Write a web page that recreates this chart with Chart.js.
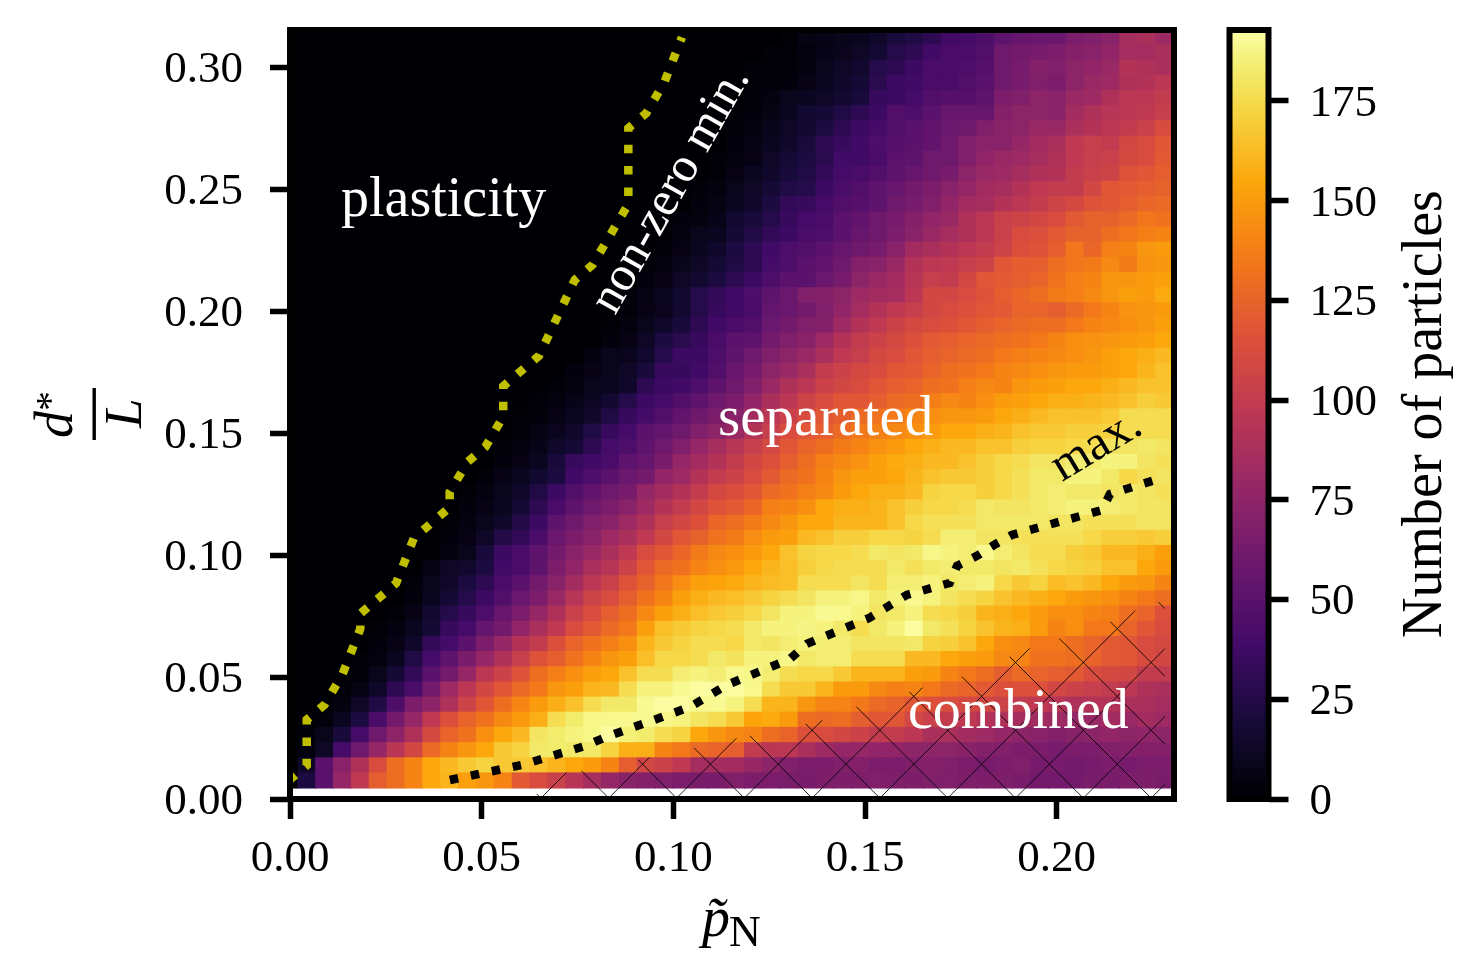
<!DOCTYPE html>
<html>
<head>
<meta charset="utf-8">
<title>Number of particles</title>
<script src="https://cdn.jsdelivr.net/npm/chart.js@4"></script>
<style>
    body { margin: 0; background: #fff; }
    canvas { position: absolute; top: 0; }
    #heat { left: 0; }
    #bar { left: 1200px; }
</style>
</head>
<body>
<canvas id="heat" width="1474" height="972"></canvas>
<canvas id="bar" width="274" height="972"></canvas>
<script>
// cell centres
const pCenters = [
    -0.0003, 0.00436, 0.00902, 0.01368, 0.01834, 0.02301, 0.02767, 0.03233, 0.03699, 0.04165,
    0.04631, 0.05097, 0.05563, 0.06029, 0.06495, 0.06962, 0.07428, 0.07894, 0.0836, 0.08826,
    0.09292, 0.09758, 0.10224, 0.1069, 0.11156, 0.11623, 0.12089, 0.12555, 0.13021, 0.13487,
    0.13953, 0.14419, 0.14885, 0.15351, 0.15817, 0.16284, 0.1675, 0.17216, 0.17682, 0.18148,
    0.18614, 0.1908, 0.19546, 0.20012, 0.20478, 0.20945, 0.21411, 0.21877, 0.22343, 0.22809
];
const dCenters = [
    0.0076, 0.0138, 0.0200, 0.0263, 0.0325, 0.0387, 0.0449, 0.0511, 0.0574, 0.0636,
    0.0698, 0.0760, 0.0822, 0.0885, 0.0947, 0.1009, 0.1071, 0.1133, 0.1196, 0.1258,
    0.1320, 0.1382, 0.1444, 0.1507, 0.1569, 0.1631, 0.1693, 0.1755, 0.1818, 0.1880,
    0.1942, 0.2004, 0.2066, 0.2129, 0.2191, 0.2253, 0.2315, 0.2377, 0.2440, 0.2502,
    0.2564, 0.2626, 0.2688, 0.2751, 0.2813, 0.2875, 0.2937, 0.2999, 0.3062, 0.3124
];

// particle count, one row per dCenter (bottom row first)
const particleCounts = [
    [1,22,50,78,98,122,130,140,155,160,152,148,140,120,112,104,94,86,78,72,70,68,66,65,65,68,66,66,65,65,67,67,67,68,67,67,68,68,67,67,67,65,62,62,62,65,65,67,67,65],
    [0,12,50,72,90,112,130,140,155,162,168,172,168,168,165,160,155,150,140,122,108,105,98,85,85,84,79,74,68,66,66,68,70,66,66,68,70,68,66,64,66,68,64,64,62,64,66,64,66,66],
    [0,3,12,40,60,78,95,108,128,140,148,155,168,172,182,183,182,182,172,158,158,140,135,128,125,122,100,95,96,88,82,78,78,76,76,74,74,74,72,70,68,66,66,64,66,66,68,70,70,70],
    [0,2,8,20,40,60,75,90,110,125,132,145,155,162,180,183,186,188,192,185,183,176,172,155,148,142,140,130,125,115,112,108,105,100,100,96,88,88,84,82,78,74,72,70,72,74,76,74,76,74],
    [0,1,3,10,22,42,62,78,98,115,125,132,142,150,158,176,183,188,189,189,190,188,186,180,176,168,154,156,150,130,128,130,122,118,118,108,104,100,98,92,90,86,84,82,78,80,84,80,84,82],
    [0,0,1,4,12,24,44,66,75,90,106,118,130,140,150,158,165,176,182,182,190,192,192,189,190,186,176,160,160,148,140,140,135,128,125,118,115,112,110,108,105,100,98,94,90,92,92,88,88,85],
    [0,0,0,1,5,13,30,42,62,82,96,108,118,128,135,148,152,160,162,176,186,186,190,192,192,192,189,176,168,168,160,150,150,142,138,140,135,128,125,120,115,115,115,108,105,102,100,96,90,88],
    [0,0,0,0,2,8,18,32,50,62,78,96,105,116,130,138,145,152,155,165,176,176,184,186,184,189,188,184,176,174,174,168,160,160,160,152,150,140,135,130,122,128,125,122,120,112,110,108,100,100],
    [0,0,0,0,1,4,10,24,40,52,65,78,90,102,116,122,132,140,148,152,164,174,174,176,182,179,186,186,188,182,184,184,176,176,176,162,162,155,152,150,142,140,132,132,130,125,120,118,112,108],
    [0,0,0,0,0,3,6,14,32,40,50,66,78,92,100,114,125,132,138,145,160,168,172,176,176,174,182,180,184,186,184,184,180,180,180,182,172,170,166,155,145,142,135,135,130,125,120,118,112,110],
    [0,0,0,0,0,1,4,10,18,34,40,55,62,76,88,98,112,120,128,135,152,164,168,172,174,176,182,186,186,187,186,182,176,182,186,192,182,178,172,166,160,158,150,140,145,135,135,125,118,112],
    [0,0,0,0,0,0,2,6,16,26,34,44,56,66,78,90,104,112,122,130,142,152,158,164,168,170,174,180,186,186,190,189,186,180,182,186,176,174,170,160,158,155,150,145,145,140,138,130,125,115],
    [0,0,0,0,0,0,0,3,10,18,26,36,46,58,66,80,94,106,112,122,132,140,152,158,162,164,168,172,176,180,186,186,188,182,186,189,186,180,176,172,166,162,158,155,150,148,145,140,135,130],
    [0,0,0,0,0,0,0,2,8,14,22,30,42,50,62,72,84,96,104,116,124,134,144,152,154,156,160,163,164,176,176,176,180,176,184,184,186,182,184,186,174,168,172,163,166,162,155,150,148,140],
    [0,0,0,0,0,0,0,0,5,12,15,22,38,42,52,66,76,88,94,105,118,128,132,140,145,149,155,160,164,170,174,176,176,176,182,178,182,184,182,182,180,182,178,174,172,170,165,165,155,150],
    [0,0,0,0,0,0,0,0,0,4,8,20,36,42,52,62,72,80,88,98,112,118,126,136,142,145,150,155,165,172,174,174,176,182,180,182,188,186,184,189,184,180,176,176,170,168,162,162,158,152],
    [0,0,0,0,0,0,0,0,0,3,6,12,25,32,42,58,66,72,82,88,98,108,118,124,132,136,144,150,152,162,165,170,170,174,174,172,176,184,184,180,180,178,178,178,178,174,170,170,168,170],
    [0,0,0,0,0,0,0,0,0,1,4,8,14,25,36,52,60,68,72,82,90,102,108,115,126,130,136,142,148,155,155,160,160,160,165,174,178,178,178,182,182,182,182,180,180,178,178,178,180,180],
    [0,0,0,0,0,0,0,0,0,0,3,6,10,18,30,42,52,60,66,72,82,92,100,108,116,120,126,138,140,145,155,158,158,160,165,170,174,174,176,182,180,180,182,184,186,186,184,182,180,180],
    [0,0,0,0,0,0,0,0,0,0,1,4,8,14,24,36,46,54,60,64,78,84,92,100,110,113,118,128,132,138,142,150,155,158,158,162,172,174,174,170,174,178,182,184,182,182,180,182,180,178],
    [0,0,0,0,0,0,0,0,0,0,0,2,6,10,16,22,38,44,50,58,62,76,82,92,100,105,112,120,128,132,140,148,152,152,155,160,165,168,168,170,174,178,182,182,186,186,182,174,178,180],
    [0,0,0,0,0,0,0,0,0,0,0,0,3,6,10,20,34,38,42,52,56,65,78,84,92,100,108,115,122,130,138,142,146,152,156,158,162,162,166,170,174,176,180,180,184,184,186,186,180,178],
    [0,0,0,0,0,0,0,0,0,0,0,0,1,4,7,14,18,30,40,44,52,60,68,78,86,94,102,110,118,125,130,136,140,146,150,155,158,162,162,165,165,170,172,172,174,176,180,180,182,180],
    [0,0,0,0,0,0,0,0,0,0,0,0,0,2,5,9,14,24,34,40,50,55,60,68,74,80,92,102,112,118,122,128,135,138,142,145,150,155,155,158,160,165,168,168,170,170,172,176,176,176],
    [0,0,0,0,0,0,0,0,0,0,0,0,0,1,3,6,10,14,24,34,40,46,54,60,66,72,84,96,104,112,118,122,128,132,135,140,145,148,148,150,155,158,162,165,165,165,168,176,176,176],
    [0,0,0,0,0,0,0,0,0,0,0,0,0,0,2,4,7,11,16,26,36,40,46,52,60,66,76,88,96,106,112,118,118,122,128,130,138,142,140,145,150,152,155,158,158,160,162,165,170,168],
    [0,0,0,0,0,0,0,0,0,0,0,0,0,0,0,2,4,8,10,14,30,36,38,44,52,60,68,80,90,96,105,108,112,118,122,125,130,132,138,142,140,148,150,152,155,155,158,162,165,166],
    [0,0,0,0,0,0,0,0,0,0,0,0,0,0,0,0,3,6,8,12,20,34,34,38,46,56,64,74,80,88,100,105,110,112,118,120,125,130,132,135,140,142,145,148,150,150,152,155,160,165],
    [0,0,0,0,0,0,0,0,0,0,0,0,0,0,0,0,0,4,8,9,15,26,36,36,44,52,60,68,74,80,88,98,102,110,112,118,122,125,128,130,135,138,140,142,145,148,152,155,158,162],
    [0,0,0,0,0,0,0,0,0,0,0,0,0,0,0,0,0,0,3,6,12,22,28,34,42,50,52,62,68,72,82,92,100,105,110,115,120,122,125,128,130,132,135,140,145,146,148,150,152,155],
    [0,0,0,0,0,0,0,0,0,0,0,0,0,0,0,0,0,0,1,4,8,14,20,30,38,42,46,58,62,68,70,82,92,98,105,110,112,115,118,122,125,128,130,130,135,140,142,145,148,152],
    [0,0,0,0,0,0,0,0,0,0,0,0,0,0,0,0,0,0,0,2,6,9,16,26,34,38,42,55,58,62,68,76,85,92,98,102,108,112,115,118,120,125,125,122,128,135,140,146,148,150],
    [0,0,0,0,0,0,0,0,0,0,0,0,0,0,0,0,0,0,0,2,5,10,16,26,32,38,44,52,58,68,70,74,82,84,86,96,108,108,112,116,122,126,130,136,138,142,148,152,150,156],
    [0,0,0,0,0,0,0,0,0,0,0,0,0,0,0,0,0,0,0,0,3,6,12,16,22,30,36,44,50,50,58,64,74,80,84,94,102,100,108,118,120,122,125,132,138,140,148,148,150,152],
    [0,0,0,0,0,0,0,0,0,0,0,0,0,0,0,0,0,0,0,0,1,4,8,12,18,24,30,40,44,50,54,60,70,72,80,92,96,98,102,106,118,122,122,130,134,136,142,136,146,148],
    [0,0,0,0,0,0,0,0,0,0,0,0,0,0,0,0,0,0,0,0,0,2,6,10,14,22,30,38,44,46,50,56,60,64,72,84,88,92,96,100,106,114,116,122,134,126,138,140,148,150],
    [0,0,0,0,0,0,0,0,0,0,0,0,0,0,0,0,0,0,0,0,0,0,4,8,10,18,24,32,36,42,44,50,56,60,66,72,80,86,90,96,104,112,114,120,124,124,130,134,138,140],
    [0,0,0,0,0,0,0,0,0,0,0,0,0,0,0,0,0,0,0,0,0,0,3,4,7,16,20,26,34,40,42,50,54,60,64,70,76,80,90,96,104,106,108,112,120,124,124,128,134,132],
    [0,0,0,0,0,0,0,0,0,0,0,0,0,0,0,0,0,0,0,0,0,0,0,3,5,10,14,22,32,34,40,46,48,52,60,64,68,76,84,86,92,96,100,106,110,116,118,122,126,128],
    [0,0,0,0,0,0,0,0,0,0,0,0,0,0,0,0,0,0,0,0,0,0,0,2,4,8,12,18,24,26,36,42,46,52,56,62,66,72,78,84,86,92,98,100,100,108,118,120,122,124],
    [0,0,0,0,0,0,0,0,0,0,0,0,0,0,0,0,0,0,0,0,0,0,0,0,2,6,10,14,20,24,32,40,42,46,52,56,60,64,74,80,82,86,90,92,100,104,106,116,118,122],
    [0,0,0,0,0,0,0,0,0,0,0,0,0,0,0,0,0,0,0,0,0,0,0,0,2,4,6,12,18,22,28,38,38,42,50,52,60,60,68,76,80,82,86,90,98,102,104,110,112,120],
    [0,0,0,0,0,0,0,0,0,0,0,0,0,0,0,0,0,0,0,0,0,0,0,0,0,3,5,10,14,20,30,34,38,44,48,50,54,60,68,72,72,78,84,88,98,102,100,108,112,118],
    [0,0,0,0,0,0,0,0,0,0,0,0,0,0,0,0,0,0,0,0,0,0,0,0,0,2,4,8,12,16,22,30,36,40,46,50,54,58,60,68,72,74,80,80,88,92,96,100,104,112],
    [0,0,0,0,0,0,0,0,0,0,0,0,0,0,0,0,0,0,0,0,0,0,0,0,0,1,3,5,10,16,18,24,30,36,46,44,50,56,56,56,70,74,74,72,84,90,94,96,98,102],
    [0,0,0,0,0,0,0,0,0,0,0,0,0,0,0,0,0,0,0,0,0,0,0,0,0,0,2,4,8,10,12,16,20,34,36,40,46,48,48,52,66,68,74,72,80,82,90,96,96,100],
    [0,0,0,0,0,0,0,0,0,0,0,0,0,0,0,0,0,0,0,0,0,0,0,0,0,0,1,2,3,6,10,14,18,28,36,38,42,42,46,50,60,64,68,66,74,80,82,90,92,96],
    [0,0,0,0,0,0,0,0,0,0,0,0,0,0,0,0,0,0,0,0,0,0,0,0,0,0,1,1,2,4,8,12,15,26,30,36,42,42,44,48,60,64,70,68,74,76,80,92,90,88],
    [0,0,0,0,0,0,0,0,0,0,0,0,0,0,0,0,0,0,0,0,0,0,0,0,0,0,0,1,1,4,7,9,12,17,26,30,38,42,42,46,60,62,64,66,70,72,76,85,85,88],
    [0,0,0,0,0,0,0,0,0,0,0,0,0,0,0,0,0,0,0,0,0,0,0,0,0,0,0,0,1,5,6,8,10,14,20,24,30,38,40,44,52,56,58,58,66,68,72,85,88,82]
];

// non-zero min. line
const minP = [-0.0003, 0.00436, 0.00436, 0.00902, 0.01368, 0.01834, 0.01834, 0.02767, 0.03233, 0.03699, 0.04165, 0.04165, 0.04631, 0.05097, 0.05563, 0.05563, 0.06495, 0.07428, 0.07894, 0.0836, 0.08826, 0.08826, 0.09292, 0.09758, 0.10224];
const minD = [0.0076, 0.0138, 0.0325, 0.0387, 0.0511, 0.0698, 0.0760, 0.0885, 0.1071, 0.1133, 0.1196, 0.1258, 0.1382, 0.1444, 0.1569, 0.1693, 0.1818, 0.2129, 0.2191, 0.2315, 0.2440, 0.2751, 0.2813, 0.2937, 0.3124];

// max. line
const maxP = [0.0417, 0.0603, 0.0769, 0.0824, 0.1043, 0.1140, 0.1304, 0.1348, 0.1510, 0.1609, 0.1721, 0.1740, 0.1792, 0.1841, 0.1883, 0.2118, 0.2139, 0.2256];
const maxD = [0.0078, 0.0139, 0.0217, 0.0254, 0.0377, 0.0468, 0.0574, 0.0636, 0.0742, 0.0837, 0.0886, 0.0956, 0.0997, 0.1046, 0.1083, 0.1185, 0.1251, 0.1308];

// upper edge of the hatched "combined" region
const combinedP = [0.0625, 0.0717, 0.0756, 0.0905, 0.0942, 0.1051, 0.1166, 0.1195, 0.1343, 0.1390, 0.1474, 0.1612, 0.1656, 0.1750, 0.1875, 0.1938, 0.2003, 0.2139, 0.2209, 0.2264, 0.2282, 0.2282];
const combinedD = [0, 0.0108, 0.0115, 0.0160, 0.0172, 0.0209, 0.0250, 0.0258, 0.0308, 0.0324, 0.0377, 0.0439, 0.0459, 0.0500, 0.0582, 0.0623, 0.0656, 0.0726, 0.0775, 0.0808, 0.0816, 0];

const pTicks = [0, 0.05, 0.10, 0.15, 0.20];
const dTicks = [0, 0.05, 0.10, 0.15, 0.20, 0.25, 0.30];
const countTicks = [0, 25, 50, 75, 100, 125, 150, 175];
const countMax = 192.8;

// inferno
const infernoAt = [0, 0.1, 0.2, 0.3, 0.4, 0.5, 0.6, 0.7, 0.8, 0.9, 0.95, 1];
const inferno = ['#000004', '#160b39', '#420a68', '#6a176e', '#932667', '#bc3754', '#dd513a', '#f37819', '#fca50a', '#f6d746', '#f2ec6e', '#fcffa4'];

function hexToRgb(hex) {
    return [1, 3, 5].map(i => parseInt(hex.slice(i, i + 2), 16));
}

function countColor(v) {
    const t = Math.min(v / countMax, 1);
    let i = 0;
    while (i < inferno.length - 2 && t > infernoAt[i + 1]) i++;
    const f = (t - infernoAt[i]) / (infernoAt[i + 1] - infernoAt[i]);
    const a = hexToRgb(inferno[i]), b = hexToRgb(inferno[i + 1]);
    const c = a.map((x, k) => Math.round(x + (b[k] - x) * f));
    return `rgb(${c[0]},${c[1]},${c[2]})`;
}

const serif = '"Liberation Serif", serif';

// text and frame drawn on top of the axes
function textPlugin(labels) {
    return {
        id: 'labels',
        afterDraw(chart) {
            const ctx = chart.ctx;
            labels.forEach(l => {
                ctx.save();
                ctx.translate(l.x, l.y);
                ctx.rotate((l.angle || 0) * Math.PI / 180);
                ctx.font = l.font;
                ctx.fillStyle = l.color || '#000';
                ctx.textAlign = l.align || 'left';
                ctx.textBaseline = 'alphabetic';
                ctx.fillText(l.text, 0, 0);
                ctx.restore();
            });
        }
    };
}

const framePlugin = {
    id: 'frame',
    afterDatasetsDraw(chart) {
        const a = chart.chartArea, ctx = chart.ctx;
        ctx.save();
        ctx.strokeStyle = '#000';
        ctx.lineWidth = 6;
        ctx.strokeRect(a.left, a.top, a.right - a.left, a.bottom - a.top);
        ctx.restore();
    }
};

const hatchPlugin = {
    id: 'hatch',
    afterDatasetsDraw(chart) {
        const { ctx, chartArea: a, scales: { x, y } } = chart;
        ctx.save();
        ctx.beginPath();
        combinedP.forEach((p, i) => {
            ctx.lineTo(x.getPixelForValue(p), y.getPixelForValue(combinedD[i]));
        });
        ctx.closePath();
        ctx.clip();
        ctx.strokeStyle = 'rgba(0,0,0,0.85)';
        ctx.lineWidth = 1;
        ctx.beginPath();
        const period = 67.8;
        for (let c = 14 - period * 6; c < a.right; c += period) {
            ctx.moveTo(a.top + c, a.top);
            ctx.lineTo(a.bottom + c, a.bottom);
        }
        for (let c = 1339 - period * 4; c < a.right + a.bottom; c += period) {
            ctx.moveTo(c - a.top, a.top);
            ctx.lineTo(c - a.bottom, a.bottom);
        }
        ctx.stroke();
        ctx.restore();
    }
};

const fracPlugin = {
    id: 'frac',
    afterDraw(chart) {
        chart.ctx.fillStyle = '#000';
        chart.ctx.fillRect(92.5, 388, 3.4, 52);
    }
};

// keep tick labels from pushing the plot area in
function pinScale(scale, size) {
    if (scale.isHorizontal()) {
        scale.height = size;
    } else {
        scale.width = size;
    }
    scale.paddingTop = scale.paddingBottom = scale.paddingLeft = scale.paddingRight = 0;
}

const halfD = (dCenters[1] - dCenters[0]) / 2;

const rowDatasets = particleCounts.map((row, j) => ({
    type: 'bar',
    order: 2,
    data: row.map((v, i) => ({ x: pCenters[i], y: [dCenters[j] - halfD, dCenters[j] + halfD] })),
    backgroundColor: row.map(countColor),
    borderWidth: 0,
    inflateAmount: 0.5,
    grouped: false,
    barPercentage: 1,
    categoryPercentage: 1
}));

function dottedLine(ps, ds, color) {
    return {
        type: 'line',
        order: 1,
        data: ps.map((p, i) => ({ x: p, y: ds[i] })),
        borderColor: color,
        borderWidth: 8.5,
        borderDash: [8.5, 12.9],
        borderCapStyle: 'butt',
        pointRadius: 0,
        tension: 0,
        fill: false
    };
}

const heatLabels = [
    { text: 'plasticity', x: 341, y: 216, font: `56px ${serif}`, color: '#fff' },
    { text: 'separated', x: 718, y: 435, font: `57px ${serif}`, color: '#fff' },
    { text: 'combined', x: 908, y: 728, font: `56px ${serif}`, color: '#fff' },
    { text: 'non-zero min.', x: 615, y: 316, angle: -60.5, font: `49px ${serif}`, color: '#fff' },
    { text: 'max.', x: 1062, y: 482, angle: -31, font: `49px ${serif}` },
    { text: 'd', x: 72, y: 438, angle: -90, font: `italic 54px ${serif}` },
    { text: '*', x: 63, y: 411, angle: -90, font: `40px ${serif}` },
    { text: 'L', x: 141, y: 428, angle: -90, font: `italic 53px ${serif}` },
    { text: 'p\u0303', x: 702, y: 936, font: `italic 56px ${serif}` },
    { text: 'N', x: 729, y: 946, font: `44px ${serif}` }
];

new Chart(document.getElementById('heat').getContext('2d'), {
    type: 'bar',
    data: {
        datasets: [
            dottedLine(minP, minD, '#bfbf00'),
            dottedLine(maxP, maxD, '#000000'),
            ...rowDatasets
        ]
    },
    options: {
        responsive: false,
        animation: false,
        layout: { padding: { left: 0, top: 30, right: 300, bottom: 0 } },
        plugins: { legend: { display: false }, tooltip: { enabled: false } },
        scales: {
            x: {
                type: 'linear',
                min: 0,
                max: 0.2306,
                offset: false,
                afterFit: scale => pinScale(scale, 173),
                afterBuildTicks: scale => { scale.ticks = pTicks.map(value => ({ value })); },
                border: { display: false },
                grid: { offset: false, drawOnChartArea: false, tickLength: 20, tickWidth: 5.5, tickColor: '#000' },
                ticks: {
                    color: '#000',
                    padding: 13,
                    maxRotation: 0,
                    font: { family: serif, size: 45 },
                    callback: v => v.toFixed(2)
                }
            },
            y: {
                min: 0,
                max: 0.3154,
                afterFit: scale => pinScale(scale, 290),
                afterBuildTicks: scale => { scale.ticks = dTicks.map(value => ({ value })); },
                border: { display: false },
                grid: { drawOnChartArea: false, tickLength: 20, tickWidth: 5.5, tickColor: '#000' },
                ticks: {
                    color: '#000',
                    padding: 27,
                    labelOffset: 3,
                    font: { family: serif, size: 45 },
                    callback: v => v.toFixed(2)
                }
            }
        }
    },
    plugins: [hatchPlugin, framePlugin, fracPlugin, textPlugin(heatLabels)]
});

// COLOUR BAR
const barLabels = [
    { text: 'Number of particles', x: 241, y: 414, angle: -90, align: 'center', font: `56px ${serif}` }
];

new Chart(document.getElementById('bar').getContext('2d'), {
    type: 'bar',
    data: {
        labels: [''],
        datasets: [{
            data: [[0, countMax]],
            borderWidth: 0,
            barPercentage: 1,
            categoryPercentage: 1,
            backgroundColor(c) {
                const a = c.chart.chartArea;
                if (!a) return '#000';
                const g = c.chart.ctx.createLinearGradient(0, a.bottom, 0, a.top);
                inferno.forEach((col, i) => g.addColorStop(infernoAt[i], col));
                return g;
            }
        }]
    },
    options: {
        responsive: false,
        animation: false,
        layout: { padding: { left: 29.5, top: 30, right: 0, bottom: 173 } },
        plugins: { legend: { display: false }, tooltip: { enabled: false } },
        scales: {
            x: { display: false },
            y: {
                position: 'right',
                min: 0,
                max: countMax,
                afterFit: scale => pinScale(scale, 205.5),
                afterBuildTicks: scale => { scale.ticks = countTicks.map(value => ({ value })); },
                border: { display: false },
                grid: { drawOnChartArea: false, tickLength: 20, tickWidth: 5.5, tickColor: '#000' },
                ticks: {
                    color: '#000',
                    padding: 21,
                    labelOffset: 3,
                    font: { family: serif, size: 45 }
                }
            }
        }
    },
    plugins: [framePlugin, textPlugin(barLabels)]
});
</script>
</body>
</html>
